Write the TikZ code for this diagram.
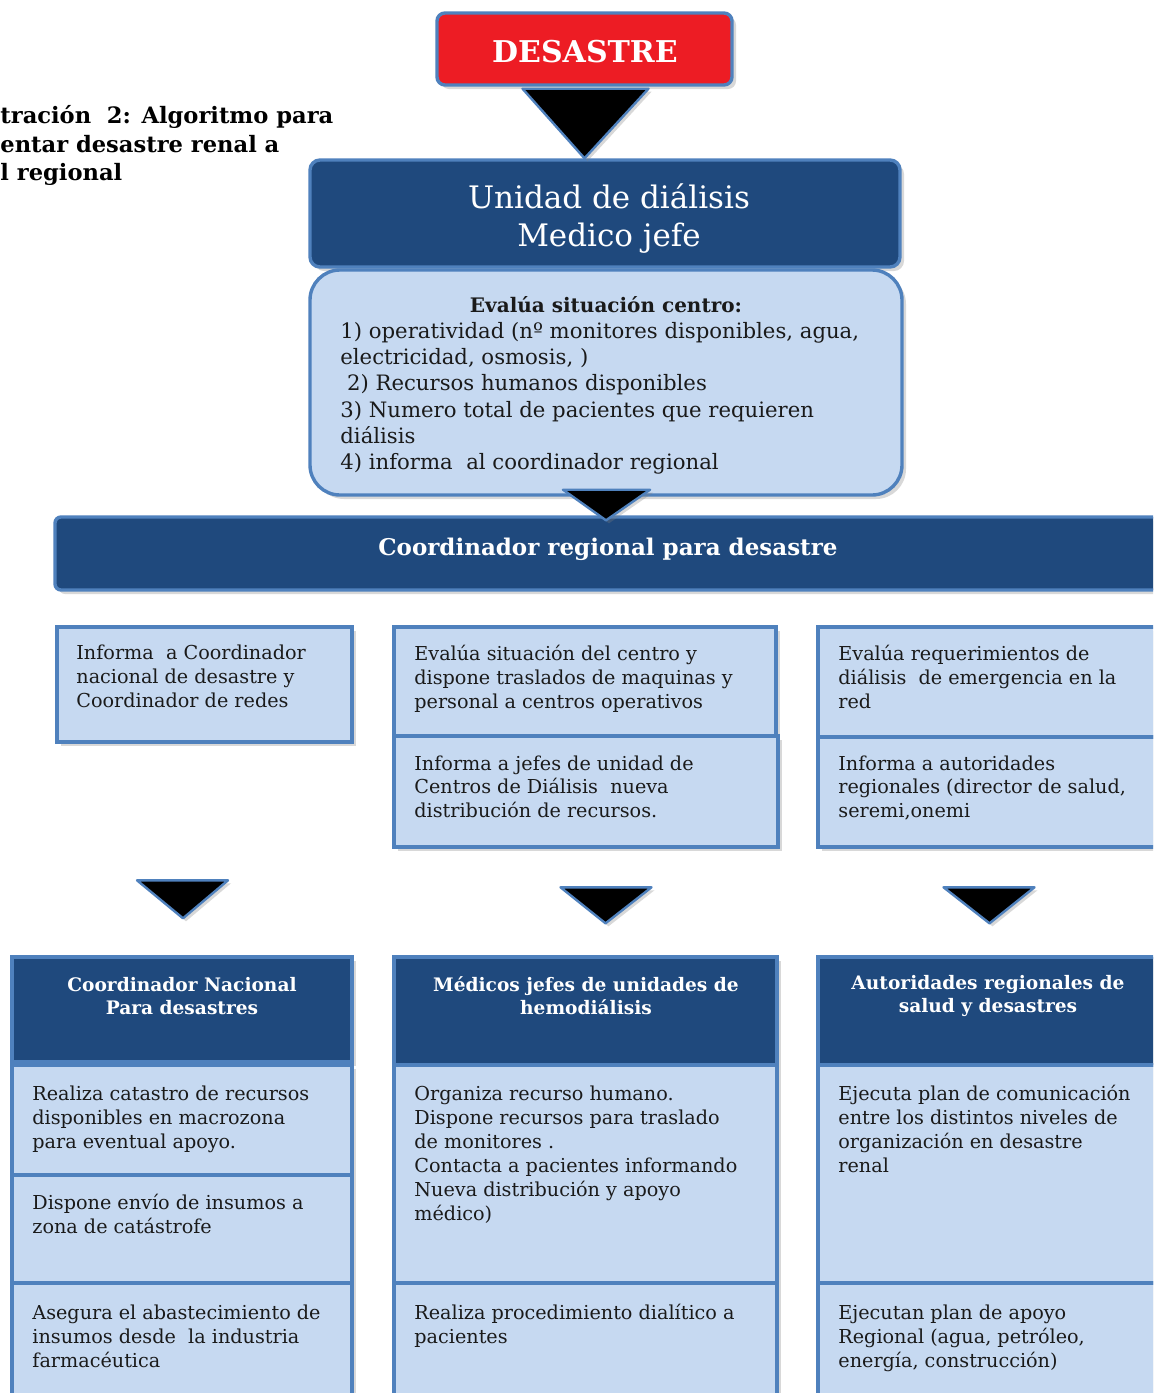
\documentclass[tikz,border=0pt]{standalone}
\usepackage{fontspec}
\setmainfont{DejaVu Serif}
\usetikzlibrary{fit,calc,shadows}

\definecolor{darkblue}{HTML}{1F497D}
\definecolor{lightblue}{HTML}{C6D9F1}
\definecolor{edgeblue}{HTML}{4F81BD}
\definecolor{alertred}{HTML}{ED1C24}
\definecolor{inkgray}{HTML}{1A1A1A}

\tikzset{
  panel/.style={draw=edgeblue, line width=1.7pt, inner sep=0pt,
    drop shadow={opacity=0.3, shadow xshift=2pt, shadow yshift=-2pt}},
  lightpanel/.style={panel, fill=lightblue},
  darkpanel/.style={panel, fill=darkblue},
  bodytext/.style={anchor=north west, align=left, inner sep=0pt, text=inkgray,
    font=\fontsize{9.6}{12}\selectfont},
  headtext/.style={align=center, inner sep=0pt, text=white,
    font=\bfseries\fontsize{9.3}{11.5}\selectfont},
  downtri/.style={fill=black, draw=edgeblue, line width=1.2pt, line join=round,
    drop shadow={opacity=0.3, shadow xshift=1.5pt, shadow yshift=-1.5pt}},
}

\begin{document}
\begin{tikzpicture}[x=0.5pt, y=-0.5pt]
\fill[white] (0,0) rectangle (1153,1393);
\useasboundingbox (0,0) rectangle (1153,1393);
\clip (0,0) rectangle (1153,1393);

% Caption, cut at the left edge
\node[anchor=north west, align=left, inner sep=0pt,
  font=\bfseries\fontsize{11.3}{14.3}\selectfont] (caption) at (0,105)
  {tración\ \ 2: Algoritmo para\\entar desastre renal a\\l regional};

% Top of the chart
\node[panel, fill=alertred, rounded corners=4pt, fit={(437,13) (732,85)}] (desastre) {};
\node[inner sep=0pt, text=white, font=\bfseries\fontsize{15}{18}\selectfont] (desastreText)
  at (585,52) {DESASTRE};
\node[darkpanel, rounded corners=5pt, fit={(310,160) (900,267)}] (unidad) {};
\node[inner sep=0pt, text=white, align=center, font=\fontsize{15.5}{19}\selectfont] (unidadText)
  at (609,219) {Unidad de diálisis\\Medico jefe};
\node[lightpanel, rounded corners=15pt, fit={(310,270) (902,495)}] (evalua) {};
\node[inner sep=0pt, text=inkgray, font=\bfseries\fontsize{10}{13}\selectfont] (evaluaHead)
  at (606,305) {Evalúa situación centro:};
\node[bodytext, font=\fontsize{10.6}{13.1}\selectfont] (evaluaList) at (340,322)
  {1) operatividad (nº monitores disponibles, agua,\\electricidad, osmosis, )\\\ 2) Recursos humanos disponibles\\3) Numero total de pacientes que requieren\\diálisis\\4) informa\ \ al coordinador regional};
\draw[downtri] ($(desastre.south)+(-62,2)$) -- ($(desastre.south)+(64,2)$)
  -- (desastre.south |- unidad.north) -- cycle;

% Regional coordinator
\node[darkpanel, rounded corners=3pt, fit={(55,517) (1165,590)}] (coordreg) {};
\node[inner sep=0pt, text=white, font=\bfseries\fontsize{11.5}{14}\selectfont] (coordregText)
  at (608,549) {Coordinador regional para desastre};
\draw[downtri] ($(evalua.south)+(-43,-7)$) -- ($(evalua.south)+(44,-7)$)
  -- ($(evalua.south |- coordreg.north)+(0,5)$) -- cycle;

% First row of tasks
\node[lightpanel, fit={(57,627) (352,742)}] (infnac) {};
\node[bodytext] (infnacText) at (76,645)
  {Informa\ \ a Coordinador\\nacional de desastre y\\Coordinador de redes};
\node[lightpanel, fit={(394,627) (776,736)}] (evcentro) {};
\node[bodytext] (evcentroText) at (414,645)
  {Evalúa situación del centro y\\dispone traslados de maquinas y\\personal a centros operativos};
\node[lightpanel, fit={(394,736) (778,847)}] (infjefes) {};
\node[bodytext] (infjefesText) at (414,755)
  {Informa a jefes de unidad de\\Centros de Diálisis\ \ nueva\\distribución de recursos.};
\node[lightpanel, fit={(818,627) (1165,737)}] (evreq) {};
\node[bodytext] (evreqText) at (838,645)
  {Evalúa requerimientos de\\diálisis\ \ de emergencia en la\\red};
\node[lightpanel, fit={(818,737) (1165,847)}] (infaut) {};
\node[bodytext] (infautText) at (838,755)
  {Informa a autoridades\\regionales (director de salud,\\seremi,onemi};

% Column 1
\node[darkpanel, fit={(12,957) (352,1062)}] (natHead) {};
\node[headtext] (natHeadText) at (182,996) {Coordinador Nacional\\Para desastres};
\node[lightpanel, fit={(12,1065) (352,1175)}] (natA) {};
\node[bodytext] (natAText) at (32,1085)
  {Realiza catastro de recursos\\disponibles en macrozona\\para eventual apoyo.};
\node[lightpanel, fit={(12,1175) (352,1283)}] (natB) {};
\node[bodytext] (natBText) at (32,1194)
  {Dispone envío de insumos a\\zona de catástrofe};
\node[lightpanel, fit={(12,1283) (352,1405)}] (natC) {};
\node[bodytext] (natCText) at (32,1304)
  {Asegura el abastecimiento de\\insumos desde\ \ la industria\\farmacéutica};
\draw[downtri] ($(natHead.north)+(-45,-75)$) -- ($(natHead.north)+(46,-75)$)
  -- ($(natHead.north)+(1,-37)$) -- cycle;

% Column 2
\node[darkpanel, fit={(394,957) (777,1065)}] (medHead) {};
\node[headtext] (medHeadText) at (586,996) {Médicos jefes de unidades de\\hemodiálisis};
\node[lightpanel, fit={(394,1065) (777,1283)}] (medA) {};
\node[bodytext] (medAText) at (414,1085)
  {Organiza recurso humano.\\Dispone recursos para traslado\\de monitores .\\Contacta a pacientes informando\\Nueva distribución y apoyo\\médico)};
\node[lightpanel, fit={(394,1283) (777,1405)}] (medB) {};
\node[bodytext] (medBText) at (414,1304)
  {Realiza procedimiento dialítico a\\pacientes};
\draw[downtri] ($(medHead.north)+(-25,-68)$) -- ($(medHead.north)+(66,-68)$)
  -- ($(medHead.north)+(20,-32)$) -- cycle;

% Column 3
\node[darkpanel, fit={(818,957) (1165,1065)}] (autHead) {};
\node[headtext] (autHeadText) at (988,996) {Autoridades regionales de\\salud y desastres};
\node[lightpanel, fit={(818,1065) (1165,1283)}] (autA) {};
\node[bodytext] (autAText) at (838,1085)
  {Ejecuta plan de comunicación\\entre los distintos niveles de\\organización en desastre\\renal};
\node[lightpanel, fit={(818,1283) (1165,1405)}] (autB) {};
\node[bodytext] (autBText) at (838,1304)
  {Ejecutan plan de apoyo\\Regional (agua, petróleo,\\energía, construcción)};
\draw[downtri] ($(autHead.north)+(-48,-68)$) -- ($(autHead.north)+(43,-68)$)
  -- ($(autHead.north)+(-2,-32)$) -- cycle;
\end{tikzpicture}
\end{document}
